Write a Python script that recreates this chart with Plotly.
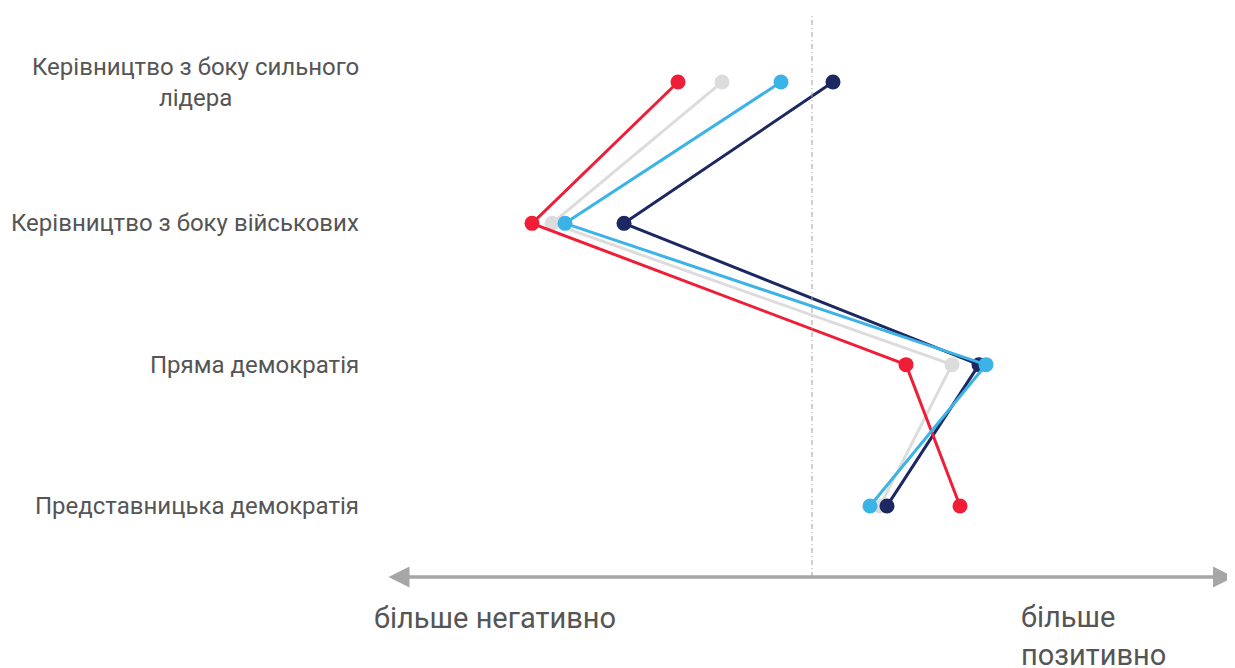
import plotly.graph_objects as go

# categories (top to bottom)
categories = ["Керівництво з боку сильного<br>лідера",
              "Керівництво з боку військових",
              "Пряма демократія",
              "Представницька демократія"]

# net attitude per group (0 = neutral)
red_vals = [-13.4, -28.0, 9.4, 14.8]
gray_vals = [-9.0, -26.0, 14.0, 6.8]
navy_vals = [2.1, -18.8, 16.7, 7.5]
blue_vals = [-3.1, -24.7, 17.4, 5.8]

# drawing order: gray, navy, red, blue
series = [("gray", gray_vals, "#dcdcdc"),
          ("navy", navy_vals, "#1b2862"),
          ("red", red_vals, "#f01d36"),
          ("blue", blue_vals, "#3cb3e6")]

y_pos = list(range(len(categories)))

fig = go.Figure()
for name, vals, col in series:
    fig.add_trace(go.Scatter(x=vals, y=y_pos, mode="lines+markers", name=name,
                             line=dict(color=col, width=3),
                             marker=dict(color=col, size=15)))

# category labels, centred text block right of which the plot starts
for yy, lab in zip(y_pos, categories):
    fig.add_annotation(xref="paper", yref="y", x=0, y=yy, xshift=-24,
                       xanchor="right", yanchor="middle", align="center",
                       text=lab, showarrow=False,
                       font=dict(size=24, color="#555555"))

# neutral reference line
fig.add_shape(type="line", xref="x", yref="paper", x0=0, x1=0, y0=0, y1=0.99,
              line=dict(color="#a0a0a0", width=1, dash="5px,3px,1px,3px"))

# double-headed axis arrow
fig.add_annotation(xref="paper", yref="paper", x=1.0, y=0, ax=-848, ay=0,
                   axref="pixel", ayref="pixel", text="", showarrow=True,
                   arrowhead=2, arrowside="end+start", arrowsize=1.2,
                   arrowwidth=3.5, arrowcolor="#a6a6a6")

fig.add_annotation(xref="paper", yref="paper", x=-0.0155, y=-0.072,
                   xanchor="left", yanchor="middle", text="більше негативно",
                   showarrow=False, font=dict(size=29, color="#555555"))
fig.add_annotation(xref="paper", yref="paper", x=0.746, y=-0.104,
                   xanchor="left", yanchor="middle", text="більше<br>позитивно",
                   showarrow=False, align="left",
                   font=dict(size=29, color="#555555"))

fig.update_layout(
    width=1227, height=660,
    margin=dict(l=377, r=0, t=0, b=91),
    plot_bgcolor="white", paper_bgcolor="white",
    showlegend=False,
    font=dict(family="Roboto", color="#555555"),
    xaxis=dict(range=[-42.7, 42.3], visible=False),
    yaxis=dict(range=[3.503, -0.524], showticklabels=False,
               showgrid=False, zeroline=False, showline=False, ticks=""),
)

fig.write_html("out.html")
